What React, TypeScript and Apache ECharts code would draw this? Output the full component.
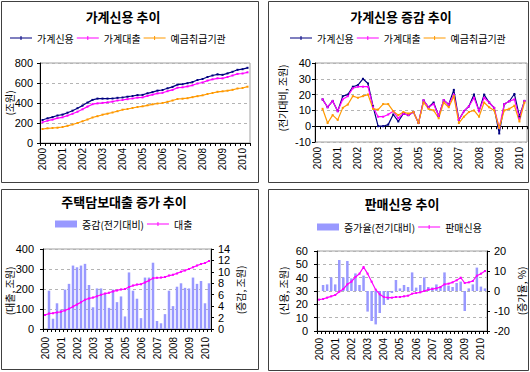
import React, { useEffect, useRef } from "react";
import * as echarts from "echarts";

// ---------- data ----------
const years = ["2000", "2001", "2002", "2003", "2004", "2005", "2006", "2007", "2008", "2009", "2010"];
const quarterNames = ["1Q", "2Q", "3Q", "4Q"];

// 가계신용 추이 (조원)
const householdCredit = [230, 247, 259, 275, 284, 303, 323, 348, 374, 404, 431, 444, 444, 444, 445, 452, 455, 463, 470, 479, 481, 497, 509, 524, 530, 547, 561, 584, 588, 598, 610, 630, 640, 660, 675, 687, 682, 696, 712, 732, 738, 752];
const householdLoans = [207, 223, 234, 249, 257, 274, 292, 313, 337, 364, 388, 396, 401, 407, 414, 425, 430, 438, 445, 454, 456, 471, 483, 496, 502, 518, 531, 553, 557, 566, 577, 595, 605, 624, 637, 647, 646, 660, 675, 691, 695, 707];
const depositInstitutions = [140, 147, 150, 153, 160, 172, 185, 200, 217, 235, 255, 268, 283, 293, 305, 318, 333, 340, 350, 360, 367, 377, 387, 395, 400, 412, 425, 440, 443, 448, 458, 468, 477, 490, 500, 512, 517, 523, 532, 545, 550, 563];

// 가계신용 증감 추이 (전기대비, 조원)
const creditChange = [null, 17, 12, 16, 9.5, 19, 20, 25, 26, 30, 27, 12.6, 0, 0, 1, 7.4, 3, 8, 7, 9, 2, 16.4, 12, 15, 6.5, 16.5, 13.7, 23, 4, 9.5, 12.6, 20, 9.5, 20, 15, 11.6, -4.6, 14, 15.8, 20.4, 6, 16];
const loanChange = [null, 17, 12, 16, 9.5, 17, 19, 24, 25, 25, 25, 12, 6, 6, 7.4, 9.5, 5, 8, 7, 9, 2, 16.4, 12, 14, 6.5, 16.5, 13.7, 20, 4, 9.5, 12.6, 18, 9.5, 18, 15, 11.6, -1, 14, 15.8, 17, 5, 16];
const depositChange = [null, 11, 2, 7, 4, 11.6, 13.7, 19, 18, 19, 20, 11, 10.5, 14, 14, 9.5, 7, 9, 8, 9, 2, 15, 11, 10, 5, 15, 12, 19, 2, 6, 9, 10, 6, 15, 12, 10, -1, 10, 11, 13, 3, 15];

// 주택담보대출 증가 추이
const mortgageLoans = [70, 77, 79, 83, 86, 93, 101, 112, 123, 134, 146, 153, 157, 164, 171, 177, 181, 188, 193, 198, 200, 210, 217, 222, 224, 233, 242, 254, 256, 257, 260, 267, 271, 278, 286, 293, 300, 309, 317, 325, 330, 340];
const mortgageChange = [null, 6.7, 1.8, 4.5, 3.4, 6.9, 7.9, 11.1, 10.8, 11.1, 11.4, 7.7, 3.8, 7.1, 7.1, 6.1, 3.7, 6.9, 4.7, 5.7, 2.2, 9.9, 6.7, 5.3, 1.9, 9.0, 9.0, 11.6, 1.4, 1.0, 2.6, 6.7, 4.0, 7.4, 8.0, 7.2, 7.1, 9.0, 7.9, 8.4, 4.5, 8.0];

// 판매신용 추이
const salesCredit = [23.5, 24, 25, 26, 27, 29.5, 31.5, 35, 37, 40.5, 43, 48, 43, 37, 31, 27.5, 25.5, 25, 25, 25.5, 25.5, 26, 26.5, 28, 28.5, 29, 30, 31, 31.5, 32, 33, 35, 35.5, 36.5, 38, 40, 36, 36.5, 37.5, 41.5, 43, 45];
const salesCreditGrowth = [null, 3, 3.3, 6.8, 3.3, 15.5, 6.8, 15, 6.3, 8.8, 3, 7.7, -10.3, -15, -16.7, -11, -7, -4.5, -1, 5.5, 1.3, 3, 2, 9.3, 1.7, 3, 6.8, 2, 1.8, 3.3, 2, 9.3, 2.7, 2, 4, 4.7, -10, 1.3, 3.3, 11.7, 2.2, 1.3];

// axis ranges [min, max, interval]
const p1Axis = [0, 800, 200];
const p2Axis = [-10, 40, 10];
const p3LeftAxis = [0, 400, 100];
const p3RightAxis = [0, 14, 2];
const p4LeftAxis = [0, 60, 10];
const p4RightAxis = [-20, 20, 10];

const categories = years.flatMap((y) => quarterNames.map((q) => `${y} ${q}`)).slice(0, householdCredit.length);

// ---------- styles ----------
const NFONT = "'Liberation Sans', Arial, 'Noto Sans CJK KR', sans-serif";
const KFONT = "'Noto Sans CJK KR', 'Liberation Sans', sans-serif";
const NAVY = "#000080";
const MAGENTA = "#ff00ff";
const ORANGE = "#ff9900";
const BAR = "#9999ff";

const LINE_ICON = "path://M0,0M0,6.5H22V7.5H0ZM10.5,5H11.5V9H10.5ZM22,14";
const BAR_ICON = "path://M0,0M0,3.5H22V10.5H0ZM22,14";

const catAxis = (gridIndex: number, extra: any = {}) => ({
  type: "category",
  gridIndex,
  data: categories,
  boundaryGap: true,
  position: "bottom",
  axisLine: { show: true, onZero: false, lineStyle: { color: "#000", width: 1 } },
  axisTick: { show: true, interval: 0, length: 3, lineStyle: { color: "#000" } },
  axisLabel: {
    show: true,
    interval: 3,
    rotate: 90,
    margin: 5,
    fontSize: 10,
    color: "#000",
    fontFamily: NFONT,
    formatter: (v: string) => v.slice(0, 4),
  },
  splitLine: { show: false },
  ...extra,
});

const valAxis = (gridIndex: number, range: number[], position: string, split: boolean, margin: number) => ({
  type: "value",
  gridIndex,
  position,
  min: range[0],
  max: range[1],
  interval: range[2],
  axisLine: { show: true, onZero: false, lineStyle: { color: "#000", width: 1 } },
  axisTick: { show: true, length: 3, lineStyle: { color: "#000" } },
  axisLabel: { fontSize: 11, color: "#000", fontFamily: NFONT, margin },
  splitLine: split ? { show: true, lineStyle: { color: "#b4b4b4", type: [3, 3], width: 1 } } : { show: false },
});

const lineSeries = (name: string, data: any[], color: string, xi: number, yi: number) => ({
  type: "line",
  name,
  data,
  xAxisIndex: xi,
  yAxisIndex: yi,
  color,
  symbol: "rect",
  symbolSize: 2,
  showSymbol: true,
  lineStyle: { width: 1.2, color },
  itemStyle: { color },
  connectNulls: false,
  z: 3,
});

const barSeries = (name: string, data: any[], xi: number, yi: number) => ({
  type: "bar",
  name,
  data,
  xAxisIndex: xi,
  yAxisIndex: yi,
  color: BAR,
  itemStyle: { color: BAR },
  barWidth: 2.5,
  z: 2,
});

const legendBase = {
  orient: "horizontal",
  padding: 0,
  itemWidth: 22,
  itemHeight: 14,
  itemGap: 3,
  selectedMode: false,
  itemStyle: { borderWidth: 0 },
  textStyle: { fontSize: 10, color: "#000", fontFamily: KFONT },
};

const lineItem = (name: string) => ({ name, icon: LINE_ICON });
const barItem = (name: string) => ({ name, icon: BAR_ICON });

const title = (text: string, x: number, y: number) => ({
  type: "text",
  x,
  y,
  silent: true,
  style: {
    text,
    fontSize: 13,
    fontWeight: "bold",
    fontFamily: KFONT,
    fill: "#000",
    align: "center",
    verticalAlign: "middle",
    textAlign: "center",
    textVerticalAlign: "middle",
  },
});

const axisName = (text: string, x: number, y: number) => ({
  type: "text",
  x,
  y,
  rotation: Math.PI / 2,
  silent: true,
  style: {
    text,
    fontSize: 10,
    fontFamily: KFONT,
    fill: "#000",
    align: "center",
    verticalAlign: "middle",
    textAlign: "center",
    textVerticalAlign: "middle",
  },
});

const frame = (x: number, y: number, width: number, height: number) => ({
  type: "rect",
  silent: true,
  shape: { x, y, width, height },
  style: { fill: "none", stroke: "#404040", lineWidth: 1 },
  z: -1,
});

const gridBase = { show: true, borderColor: "#a0a0a0", borderWidth: 1, backgroundColor: "transparent", containLabel: false, outerBoundsMode: "none" };

export default function App() {
  const ref = useRef<HTMLDivElement>(null);

  useEffect(() => {
    if (!ref.current) return;
    const chart = echarts.init(ref.current, null, { renderer: "svg" });
    const option: any = {
      animation: false,
      backgroundColor: "#fff",
      textStyle: { fontFamily: NFONT },
      grid: [
        { ...gridBase, left: 40, top: 63, width: 210, height: 80 },
        { ...gridBase, left: 315, top: 63, width: 212, height: 79 },
        { ...gridBase, left: 43, top: 249, width: 168, height: 80 },
        { ...gridBase, left: 317, top: 251, width: 170, height: 80 },
      ],
      xAxis: [
        catAxis(0),
        catAxis(1, { axisLine: { show: false, onZero: false }, axisTick: { show: false } }),
        catAxis(1, {
          axisLine: { show: true, onZero: true, lineStyle: { color: "#000", width: 1 } },
          axisLabel: { show: false },
        }),
        catAxis(2, { axisLabel: { ...catAxis(2).axisLabel, margin: 8 } }),
        catAxis(3, { axisLabel: { ...catAxis(3).axisLabel, margin: 7 } }),
      ],
      yAxis: [
        valAxis(0, p1Axis, "left", true, 7),
        valAxis(1, p2Axis, "left", true, 4),
        valAxis(2, p3LeftAxis, "left", true, 9),
        valAxis(2, p3RightAxis, "right", false, 7),
        valAxis(3, p4LeftAxis, "left", true, 9),
        valAxis(3, p4RightAxis, "right", false, 7),
      ],
      legend: [
        { ...legendBase, left: 10, top: 31, data: ["가계신용", "가계대출", "예금취급기관"].map(lineItem) },
        { ...legendBase, left: 290, top: 31, data: ["가계신용", "가계대출", "예금취급기관"].map(lineItem) },
        { ...legendBase, left: 55, top: 217, data: [barItem("증감(전기대비)"), lineItem("대출")] },
        { ...legendBase, left: 317, top: 220, data: [barItem("증가율(전기대비)"), lineItem("판매신용")] },
      ],
      series: [
        lineSeries("가계신용", householdCredit, NAVY, 0, 0),
        lineSeries("가계대출", householdLoans, MAGENTA, 0, 0),
        lineSeries("예금취급기관", depositInstitutions, ORANGE, 0, 0),
        lineSeries("가계신용", creditChange, NAVY, 1, 1),
        lineSeries("가계대출", loanChange, MAGENTA, 1, 1),
        lineSeries("예금취급기관", depositChange, ORANGE, 1, 1),
        barSeries("증감(전기대비)", mortgageChange, 3, 3),
        lineSeries("대출", mortgageLoans, MAGENTA, 3, 2),
        barSeries("증가율(전기대비)", salesCreditGrowth, 4, 5),
        lineSeries("판매신용", salesCredit, MAGENTA, 4, 4),
      ],
      graphic: [
        frame(1.5, 1.5, 257, 181),
        frame(268.5, 1.5, 260, 181),
        frame(1.5, 189.5, 257, 180),
        frame(268.5, 189.5, 260, 181),
        title("가계신용 추이", 123, 16),
        title("가계신용 증감 추이", 401, 16),
        title("주택담보대출 증가 추이", 124, 201),
        title("판매신용 추이", 402, 203),
        axisName("(조원)", 9, 103),
        axisName("(전기대비, 조원)", 282, 98),
        axisName("(대출, 조원)", 9, 291),
        axisName("(증감, 조원)", 240, 290),
        axisName("(신용, 조원)", 283, 291),
        axisName("(증가율, %)", 521, 291),
      ],
    };
    chart.setOption(option);
    return () => chart.dispose();
  }, []);

  return <div ref={ref} style={{ position: "absolute", left: 0, top: 0, width: 530, height: 372 }} />;
}
